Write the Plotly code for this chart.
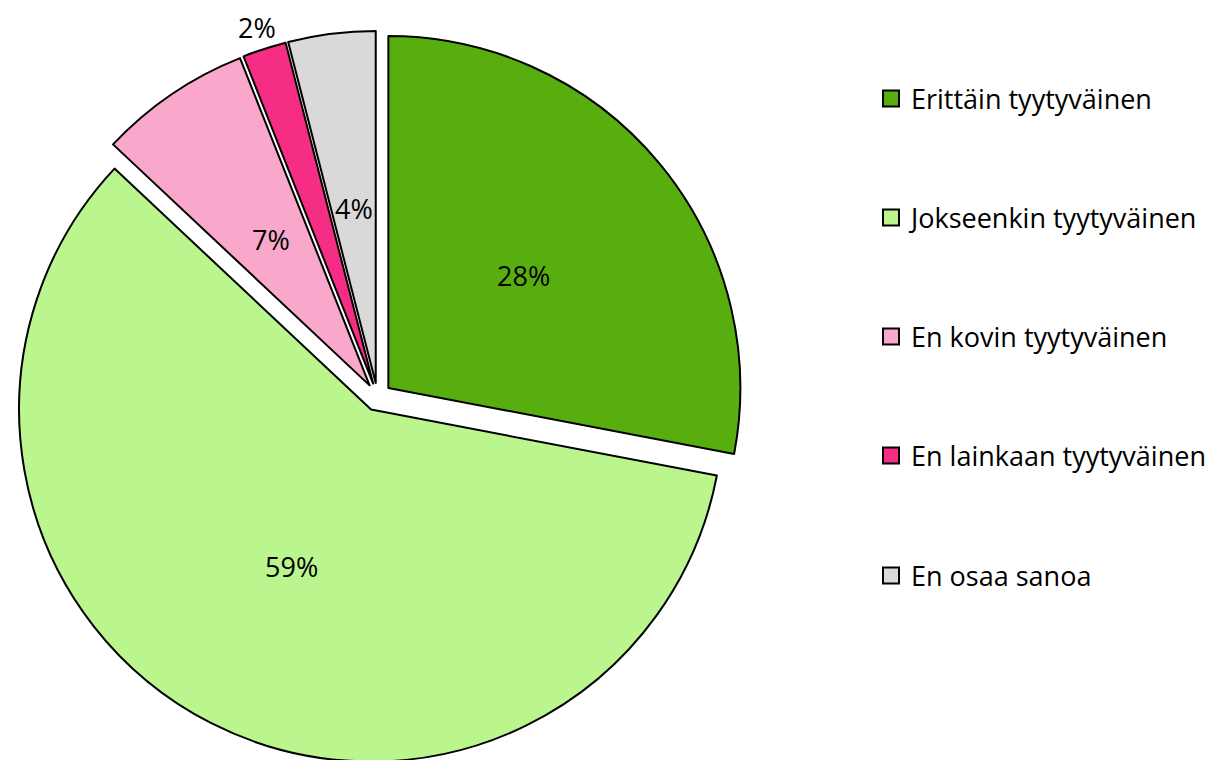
import math
import plotly.graph_objects as go

categories = ["Erittäin tyytyväinen", "Jokseenkin tyytyväinen", "En kovin tyytyväinen",
              "En lainkaan tyytyväinen", "En osaa sanoa"]
values = [28, 59, 7, 2, 4]
colors = ["#58AE0F", "#BAF58D", "#F9A8CB", "#F52D84", "#D9D9D9"]
label_pos = ["inside", "inside", "inside", "outside", "inside"]

W, H = 1219, 760
FONT = "Open Sans"
FS = 27
OFF = 8  # page body margin offset
PULL = 0.04
CX, CY, R = 377.5 - OFF, 397.0 - OFF, 352.0   # pie centre / radius in figure pixels
half = R * (1 + PULL)

fig = go.Figure()
fig.add_trace(go.Pie(
    labels=categories, values=values, sort=False, direction="clockwise", rotation=0,
    marker=dict(colors=colors, line=dict(color="black", width=2)),
    pull=[PULL] * len(values), textinfo="none", hoverinfo="label+percent",
    showlegend=False,
    domain=dict(x=[(CX - half) / W, (CX + half) / W],
                y=[1 - (CY + half) / H, 1 - (CY - half) / H]),
))

# percentage labels placed along each slice bisector
total = sum(values)
cum = 0
for v, pos in zip(values, label_pos):
    mid = (cum + v / 2) / total * 2 * math.pi
    cum += v
    dx, dy = math.sin(mid), -math.cos(mid)
    k = 0.5 if pos == "inside" else 1.065
    dist = PULL * R + k * R
    px, py = CX + dx * dist, CY + dy * dist
    fig.add_annotation(x=px / W, y=1 - py / H, xref="paper", yref="paper",
                       xanchor="center", yanchor="middle",
                       text=f"{round(v / total * 100)}%", showarrow=False,
                       font=dict(family=FONT, size=FS, color="black"))

# legend: one dummy trace per category, each in its own legend box
legend_y = [99, 218, 337, 456, 576]
for i, (c, col) in enumerate(zip(categories, colors)):
    lname = "legend" if i == 0 else f"legend{i + 1}"
    fig.add_trace(go.Scatter(
        x=[None], y=[None], mode="markers", name=c, legend=lname,
        marker=dict(symbol="square", size=16, color=col, line=dict(color="black", width=2)),
    ))
    fig.update_layout({lname: dict(x=863 / W, y=1 - (legend_y[i] - OFF) / H, xanchor="left",
                                   yanchor="middle", bgcolor="rgba(0,0,0,0)",
                                   font=dict(family=FONT, size=FS, color="black"))})

fig.update_layout(
    width=W, height=H, margin=dict(l=0, r=0, t=0, b=0),
    paper_bgcolor="white", plot_bgcolor="white",
    xaxis=dict(visible=False), yaxis=dict(visible=False),
    font=dict(family=FONT, size=FS, color="black"),
)
fig.write_html("out.html")
